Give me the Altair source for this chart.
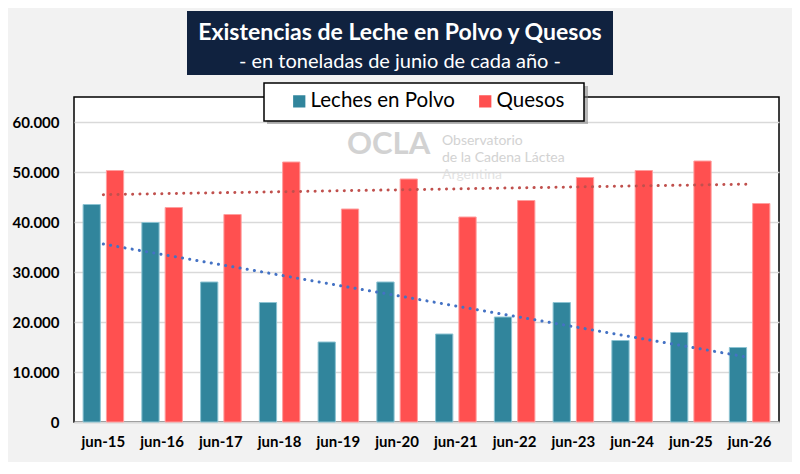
import altair as alt
import pandas as pd

categories = ["jun-15", "jun-16", "jun-17", "jun-18", "jun-19", "jun-20",
              "jun-21", "jun-22", "jun-23", "jun-24", "jun-25", "jun-26"]
leche_polvo = [43500, 39900, 28000, 23900, 16000, 28000, 17600, 21000, 23900, 16300, 17900, 14900]
quesos = [50300, 42900, 41500, 52000, 42600, 48600, 41000, 44300, 48900, 50300, 52200, 43700]
series = ["Leches en Polvo", "Quesos"]
bar_colors = ["#31859C", "#FF5050"]
bar_edges = ["#8CC3D2", "#FF9E9E"]
trend_colors = ["#4472C4", "#C0504D"]
y_ticks = [0, 10000, 20000, 30000, 40000, 50000, 60000]
title_text = "Existencias de Leche en Polvo y Quesos"
subtitle_text = "- en toneladas de junio de cada año -"

rows = []
for i, c in enumerate(categories):
    rows.append({"cat": c, "idx": i, "serie": series[0], "value": leche_polvo[i]})
    rows.append({"cat": c, "idx": i, "serie": series[1], "value": quesos[i]})
df = pd.DataFrame(rows)
one = pd.DataFrame({"k": [0]})

W, H = 705, 325
FONT = "Lato"

y_enc = alt.Y(
    "value:Q", title=None,
    scale=alt.Scale(domain=[0, 65000], nice=False),
    axis=alt.Axis(values=y_ticks, labelExpr="replace(format(datum.value, ','), ',', '.')",
                  labelFont=FONT, labelFontSize=15, labelFontWeight="bold", labelColor="black",
                  labelPadding=15, ticks=False, domain=False, grid=True,
                  gridColor="#D9D9D9", gridWidth=1.5),
)

bars = alt.Chart(df).mark_bar(strokeWidth=1).encode(
    x=alt.X("cat:N", sort=categories, title=None,
            scale=alt.Scale(paddingInner=0.31, paddingOuter=0.155),
            axis=alt.Axis(labelAngle=0, labelFont=FONT, labelFontSize=15, labelFontWeight="bold",
                          labelColor="black", labelPadding=12, ticks=False,
                          domainColor="#D9D9D9", domainWidth=2, grid=False)),
    xOffset=alt.XOffset("serie:N", sort=series,
                        scale=alt.Scale(paddingInner=0.26, paddingOuter=0)),
    y=y_enc,
    color=alt.Color("serie:N", sort=series,
                    scale=alt.Scale(domain=series, range=bar_colors),
                    legend=alt.Legend(title=None, orient="none", legendX=215, legendY=-6,
                                      direction="horizontal", symbolType="square",
                                      symbolSize=150, symbolStrokeWidth=0,
                                      labelFont=FONT, labelFontSize=20.5, labelColor="black",
                                      labelOffset=1, columnPadding=20, padding=0)),
    stroke=alt.Stroke("serie:N", sort=series,
                      scale=alt.Scale(domain=series, range=bar_edges), legend=None),
)

trends = []
for s, col in zip(series, trend_colors):
    trends.append(
        alt.Chart(df).transform_filter(alt.datum.serie == s)
        .transform_regression("idx", "value")
        .mark_line(strokeDash=[0.1, 7.2], strokeCap="round", strokeWidth=3, color=col)
        .encode(
            x=alt.X("idx:Q", scale=alt.Scale(domain=[-0.5, 11.5], nice=False, zero=False), axis=None),
            y=alt.Y("value:Q"),
        )
    )

# watermark
wm_color = "#C8C8C8"
wm_ocla = alt.Chart(one).mark_text(align="left", baseline="alphabetic", font=FONT,
                                   fontSize=31, fontWeight="bold", color=wm_color,
                                   opacity=0.8).encode(
    x=alt.value(273), y=alt.value(57), text=alt.value("OCLA"))
wm_lines = []
for txt, yy, colr in [("Observatorio", 48, wm_color), ("de la Cadena Láctea", 65, wm_color),
                      ("Argentina", 82, "#DCDCDC")]:
    wm_lines.append(
        alt.Chart(one).mark_text(align="left", baseline="alphabetic", font=FONT, fontSize=14,
                                 color=colr, opacity=0.8).encode(
            x=alt.value(368), y=alt.value(yy), text=alt.value(txt)))

# legend box with shadow
leg_shadow = alt.Chart(one).mark_rect(color="#7F7F7F", opacity=0.55).encode(
    x=alt.value(193), x2=alt.value(514), y=alt.value(-11), y2=alt.value(27))
leg_box = alt.Chart(one).mark_rect(fill="white", stroke="black", strokeWidth=1.5).encode(
    x=alt.value(190), x2=alt.value(510), y=alt.value(-14), y2=alt.value(24))

# title box
title_box = alt.Chart(one).mark_rect(color="#10223F").encode(
    x=alt.value(113), x2=alt.value(539), y=alt.value(-86), y2=alt.value(-22))
title_t = alt.Chart(one).mark_text(align="center", baseline="alphabetic", font=FONT,
                                   fontSize=23, fontWeight="bold", color="white").encode(
    x=alt.value(326), y=alt.value(-57), text=alt.value(title_text))
sub_t = alt.Chart(one).mark_text(align="center", baseline="alphabetic", font=FONT,
                                 fontSize=20, color="white").encode(
    x=alt.value(326), y=alt.value(-29), text=alt.value(subtitle_text))

chart = alt.layer(
    bars, wm_ocla, *wm_lines, *trends, leg_shadow, leg_box, title_box, title_t, sub_t
).resolve_scale(x="independent").properties(
    width=W, height=H, background="#F2F2F2",
    padding={"left": 66, "top": 89, "right": 13, "bottom": 40},
    autosize=alt.AutoSizeParams(type="none"),
).configure_view(fill="white", stroke="black", strokeWidth=1.5)

chart.save("out.html", embed_options={"renderer": "svg", "actions": False})
